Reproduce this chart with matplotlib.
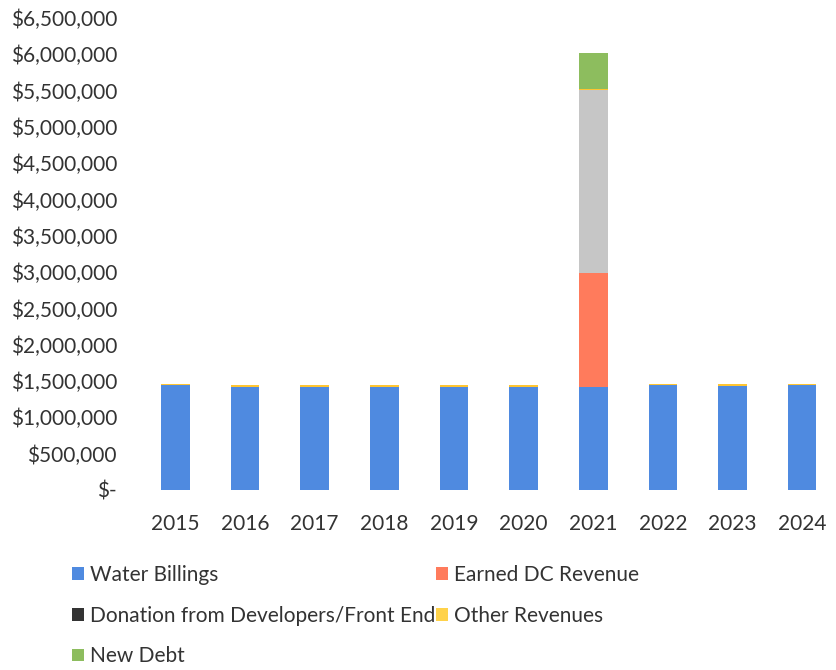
import numpy as np
import matplotlib
matplotlib.use('Agg')
import matplotlib.pyplot as plt
from matplotlib.patches import Patch
from matplotlib.ticker import FuncFormatter

years = ['2015', '2016', '2017', '2018', '2019', '2020', '2021', '2022', '2023', '2024']
water_billings = [1440000, 1420000, 1420000, 1420000, 1420000, 1420000, 1420000, 1440000, 1430000, 1440000]
earned_dc = [0, 0, 0, 0, 0, 0, 1570000, 0, 0, 0]
donation = [0, 0, 0, 0, 0, 0, 2520000, 0, 0, 0]
other_revenues = [25000, 25000, 25000, 25000, 25000, 25000, 20000, 25000, 25000, 25000]
new_debt = [0, 0, 0, 0, 0, 0, 490000, 0, 0, 0]

series = [
    ('Water Billings', water_billings, '#4f8ae0'),
    ('Earned DC Revenue', earned_dc, '#ff7b5c'),
    ('Donation from Developers/Front End', donation, '#c6c6c6'),
    ('Other Revenues', other_revenues, '#ffc531'),
    ('New Debt', new_debt, '#8dbd5e'),
]
# legend swatch colours
legend_colors = {
    'Water Billings': '#4f8ae0',
    'Earned DC Revenue': '#ff7b5c',
    'Donation from Developers/Front End': '#333333',
    'Other Revenues': '#ffd24a',
    'New Debt': '#8dbd5e',
}

plt.rcParams['font.family'] = ['Lato', 'DejaVu Sans']
FS = 15

fig = plt.figure(figsize=(8.37, 6.7), dpi=100)
ax = fig.add_axes([0.168, 0.2687, 0.832, 0.7043])

x = np.arange(len(years))
bottom = np.zeros(len(years))
for name, vals, color in series:
    vals = np.array(vals, dtype=float)
    ax.bar(x, vals, width=0.41, bottom=bottom, color=color, label=name)
    bottom += vals

ax.set_xlim(-0.5, len(years) - 0.5)
ax.set_ylim(0, 6500000)
ax.set_yticks(np.arange(0, 6500001, 500000))
ax.yaxis.set_major_formatter(FuncFormatter(lambda v, p: '$-' if v == 0 else f'${v:,.0f}'))
ax.set_xticks(x)
ax.set_xticklabels(years)
ax.tick_params(axis='both', length=0, labelsize=FS, colors='#333333')
ax.tick_params(axis='y', pad=17)
ax.tick_params(axis='x', pad=17)
for s in ax.spines.values():
    s.set_visible(False)

# Excel-style row-major legend: feed column-major order to matplotlib
order = ['Water Billings', 'Donation from Developers/Front End', 'New Debt',
         'Earned DC Revenue', 'Other Revenues']
handles = [Patch(facecolor=legend_colors[n], edgecolor='none') for n in order]
fig.legend(handles, order, loc='upper left', bbox_to_anchor=(0.064, 0.185),
           ncol=2, frameon=False, fontsize=FS, handlelength=0.55, handleheight=0.55,
           handletextpad=0.3, columnspacing=0.05, labelspacing=1.0,
           labelcolor='#333333')

fig.savefig('out.png', dpi=100)
